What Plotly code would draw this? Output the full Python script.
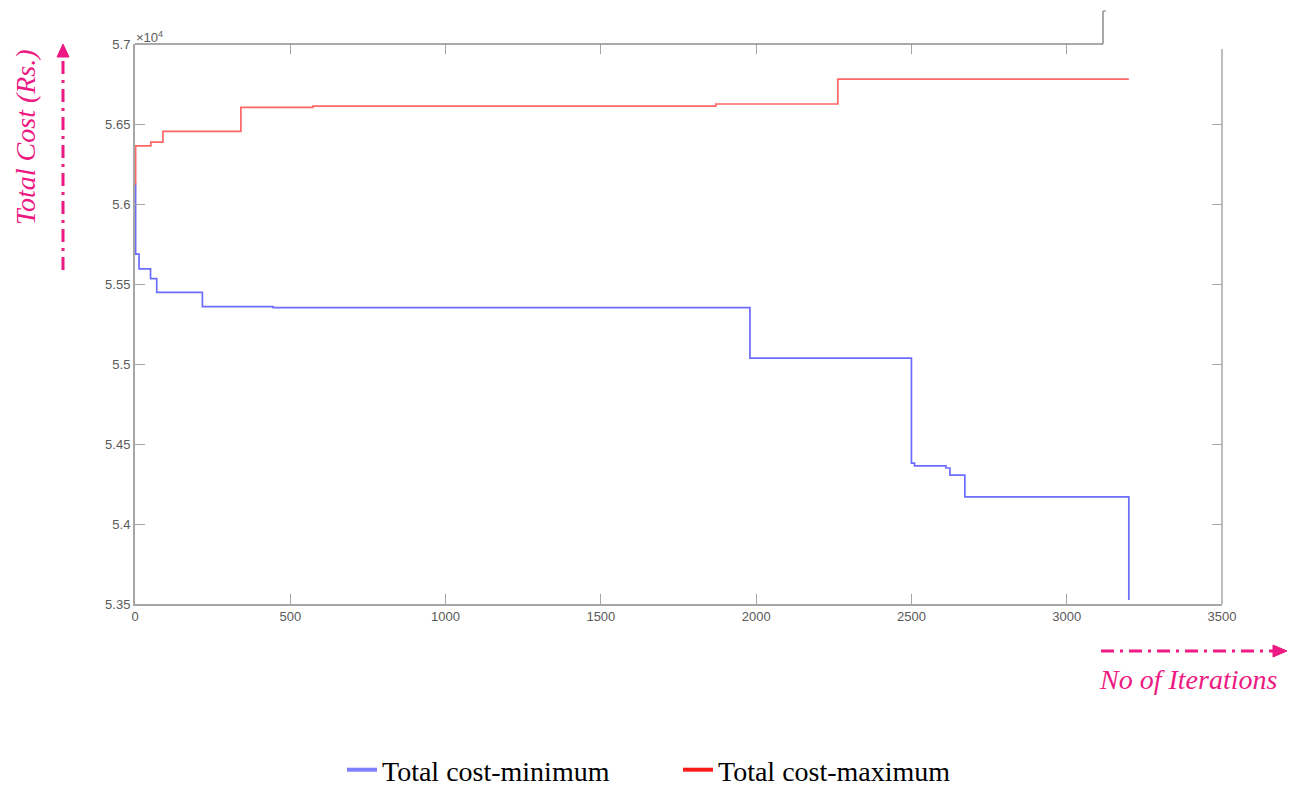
import plotly.graph_objects as go

# ---- data ----
min_iter = [0, 2, 13, 50, 70, 217, 445, 1980, 2500, 2510, 2611, 2624, 2672, 3200]
min_cost = [56125, 55687, 55594, 55533, 55448, 55358, 55352, 55037, 54381, 54363,
            54350, 54306, 54169, 53525]
max_iter = [0, 2, 51, 90, 341, 573, 1870, 2263, 3200]
max_cost = [56125, 56363, 56387, 56454, 56604, 56612, 56625, 56781, 56781]

x_ticks = [0, 500, 1000, 1500, 2000, 2500, 3000, 3500]
y_ticks = [53500, 54000, 54500, 55000, 55500, 56000, 56500, 57000]
y_tick_text = ["5.35", "5.4", "5.45", "5.5", "5.55", "5.6", "5.65", "5.7"]
series_names = ["Total cost-minimum", "Total cost-maximum"]

# ---- layout geometry (page pixels; page body has an 8px margin) ----
W, H = 1295, 787
OFF = 8
L, R, T, B = 135 - OFF, 1222 - OFF, 44 - OFF, 604 - OFF
PW, PH = R - L, B - T


def px(x):
    return (x - OFF - L) / PW


def py(y):
    return (B - (y - OFF)) / PH


PINK = "#ec1a82"
AX = "#a6a6a6"
SERIF = "Liberation Serif, Times New Roman"
TICKFONT = dict(family="Liberation Sans, Arial", size=13, color="#5a5a5a")

fig = go.Figure()

fig.add_trace(go.Scatter(x=min_iter, y=min_cost, mode="lines", line_shape="hv",
                         line=dict(color="#6c6cff", width=1.7), showlegend=False))
fig.add_trace(go.Scatter(x=max_iter, y=max_cost, mode="lines", line_shape="hv",
                         line=dict(color="#ff6666", width=1.7), showlegend=False))
# legend entries (thicker samples)
fig.add_trace(go.Scatter(x=[None], y=[None], mode="lines", name=series_names[0],
                         line=dict(color="#7f7fff", width=4)))
fig.add_trace(go.Scatter(x=[None], y=[None], mode="lines", name=series_names[1],
                         line=dict(color="#ff1a1a", width=4)))

fig.update_layout(
    width=W, height=H,
    margin=dict(l=L, r=W - R, t=T, b=H - B, autoexpand=False),
    paper_bgcolor="white", plot_bgcolor="white",
    xaxis=dict(range=[0, 3500], tickvals=x_ticks, showgrid=False, zeroline=False,
               showline=True, linecolor=AX, linewidth=1.5, ticks="inside",
               ticklen=10, tickcolor=AX, tickwidth=1.3, tickfont=TICKFONT),
    yaxis=dict(range=[53500, 57000], tickvals=y_ticks, ticktext=y_tick_text,
               showgrid=False, zeroline=False, showline=True, linecolor=AX,
               linewidth=2, ticks="inside", ticklen=10, tickcolor=AX, tickwidth=1.3,
               tickfont=TICKFONT),
    xaxis2=dict(range=[0, 3500], tickvals=x_ticks[:-1], overlaying="x", side="top",
                anchor="y", showgrid=False, zeroline=False, showline=False,
                ticks="inside", ticklen=10, tickcolor=AX, tickwidth=1.3,
                showticklabels=False),
    yaxis2=dict(range=[53500, 57000], tickvals=y_ticks[:-1], overlaying="y",
                side="right", anchor="x", showgrid=False, zeroline=False,
                showline=False, ticks="inside", ticklen=10, tickcolor=AX,
                tickwidth=1.3, showticklabels=False),
    legend=dict(orientation="h", x=px(342), y=py(770), xanchor="left",
                yanchor="middle", font=dict(family=SERIF, size=28, color="black"),
                entrywidth=291, bgcolor="rgba(0,0,0,0)", tracegroupgap=0),
)

# invisible anchor trace so the mirrored tick axes are drawn
fig.add_trace(go.Scatter(x=[None], y=[None], xaxis="x2", yaxis="y2",
                         showlegend=False, hoverinfo="skip"))

DASH = "13px,6px,3px,6px"
shapes = [
    # top frame line (stops short) and bracket artifact
    dict(type="line", xref="paper", yref="paper", x0=0, x1=px(1103), y0=1, y1=1,
         line=dict(color="#8c8c8c", width=1.5)),
    dict(type="line", xref="paper", yref="paper", x0=px(1103), x1=px(1103),
         y0=1, y1=py(11), line=dict(color="#8c8c8c", width=1.5)),
    dict(type="line", xref="paper", yref="paper", x0=px(1103), x1=px(1106),
         y0=py(11), y1=py(11), line=dict(color="#8c8c8c", width=1.2)),
    # right frame line
    dict(type="line", xref="paper", yref="paper", x0=1, x1=1, y0=0, y1=py(49),
         line=dict(color="#bdbdbd", width=2)),
    # vertical dash-dot arrow
    dict(type="line", xref="paper", yref="paper", x0=px(63), x1=px(63),
         y0=py(270), y1=py(57), line=dict(color=PINK, width=3, dash=DASH)),
    dict(type="path", xref="paper", yref="paper",
         path=f"M {px(57)} {py(57)} L {px(69)} {py(57)} L {px(63)} {py(44)} Z",
         fillcolor=PINK, line=dict(color=PINK, width=1)),
    # horizontal dash-dot arrow
    dict(type="line", xref="paper", yref="paper", x0=px(1101), x1=px(1273),
         y0=py(651), y1=py(651), line=dict(color=PINK, width=3, dash=DASH)),
    dict(type="path", xref="paper", yref="paper",
         path=f"M {px(1273)} {py(645)} L {px(1273)} {py(657)} L {px(1287)} {py(651)} Z",
         fillcolor=PINK, line=dict(color=PINK, width=1)),
]
fig.update_layout(shapes=shapes)

annotations = [
    dict(text="<i>Total Cost (Rs.)</i>", xref="paper", yref="paper", x=px(25),
         y=py(137), xanchor="center", yanchor="middle", textangle=-90,
         showarrow=False, font=dict(family=SERIF, size=28, color=PINK)),
    dict(text="<i>No of Iterations</i>", xref="paper", yref="paper", x=px(1188),
         y=py(679), xanchor="center", yanchor="middle", showarrow=False,
         font=dict(family=SERIF, size=28, color=PINK)),
    dict(text="×10<sup>4</sup>", xref="paper", yref="paper", x=px(134), y=py(37),
         xanchor="left", yanchor="middle", showarrow=False,
         font=dict(family="Liberation Sans, Arial", size=13, color="#5a5a5a")),
]
fig.update_layout(annotations=annotations)

fig.write_html("out.html")
